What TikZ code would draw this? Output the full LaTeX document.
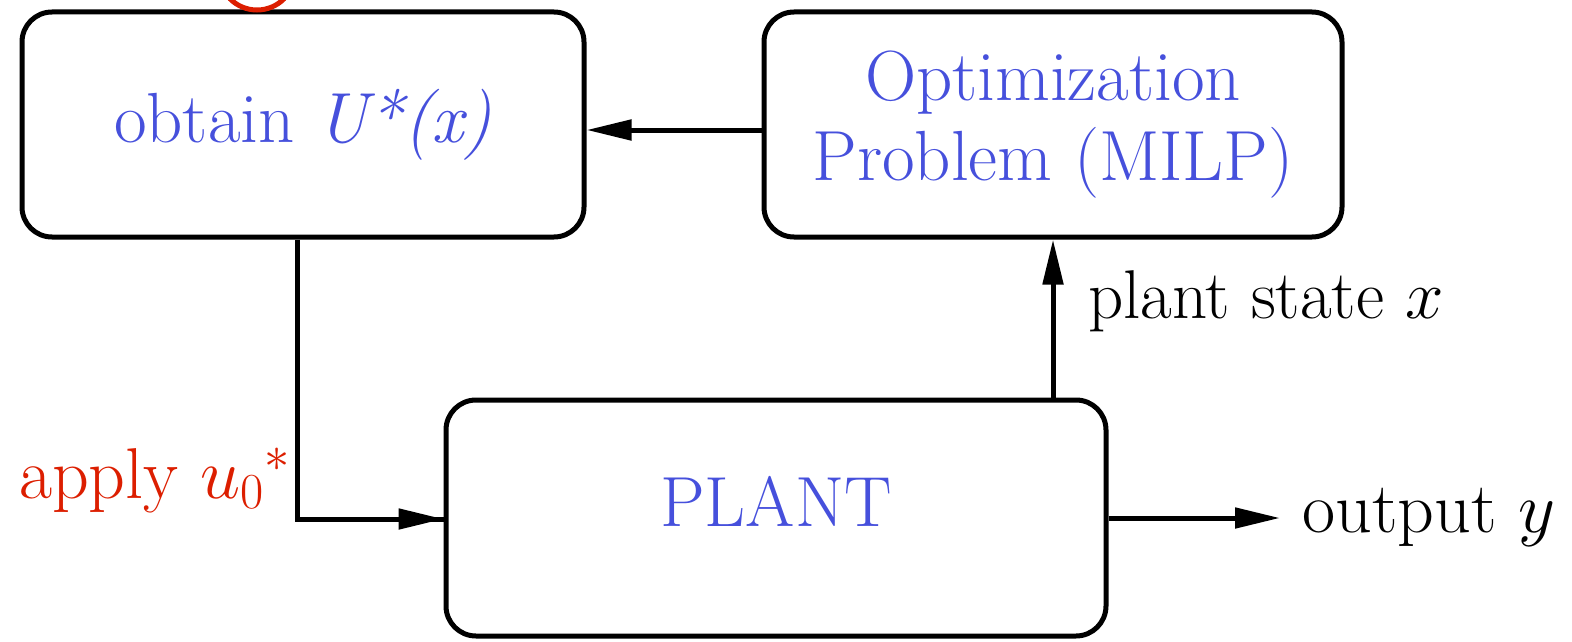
\RequirePackage{fix-cm}
\documentclass[tikz,border=0pt]{standalone}
\usetikzlibrary{arrows.meta,calc}
\definecolor{boxblue}{RGB}{70,80,220}
\definecolor{applyred}{RGB}{220,30,0}
\tikzset{
  blockbox/.style={draw=black, line width=5pt, rounded corners=30pt,
    align=center, text=boxblue, font=\fontsize{71}{80}\selectfont},
  flow/.style={line width=5pt, -{Triangle[length=45pt,width=20pt]}},
  wire/.style={line width=5pt},
  sidelabel/.style={font=\fontsize{69}{80}\selectfont, inner sep=0pt}
}
\begin{document}
\begin{tikzpicture}[x=1pt,y=-1pt]
\useasboundingbox (0,0) rectangle (1572,642);
% controller, optimizer and plant blocks
\node[blockbox, minimum width=562pt, minimum height=225pt] (obt) at (303,124.5)
  {obtain \textit{U*(x)}};
\node[blockbox, minimum width=578pt, minimum height=225pt] (opt) at (1053,124.5)
  {Optimization\\Problem (MILP)};
\node[blockbox, minimum width=660pt, minimum height=236pt, text depth=34pt] (plant) at (776,518)
  {PLANT};
% highlight ring above the controller block
\draw[applyred, line width=5pt] (257,-28) circle (38pt);
% signal paths
\draw[flow] ([yshift=-5.5pt]opt.west) -- ([yshift=-5.5pt]obt.east);
\draw[wire] ([xshift=-6pt]obt.south) |- ([yshift=-1pt]plant.west) coordinate (uin);
\draw[flow] ([xshift=-48pt,yshift=-1pt]plant.west) -- ([yshift=-1pt]plant.west);
\draw[flow] (plant.north -| opt.south) -- (opt.south);
\coordinate (out) at (1280,518);
\draw[flow] (plant.east) -- (out);
% signal labels
\node[sidelabel, font=\fontsize{72}{80}\selectfont, text=applyred, anchor=base east] (apply) at (290,498) {apply $u_0{}^{*}$};
\node[sidelabel, anchor=base west] (state) at (1088,318) {plant state $x$};
\node[sidelabel, font=\fontsize{72}{80}\selectfont, anchor=base west] (output) at (1302,532) {output $y$};
\end{tikzpicture}
\end{document}
